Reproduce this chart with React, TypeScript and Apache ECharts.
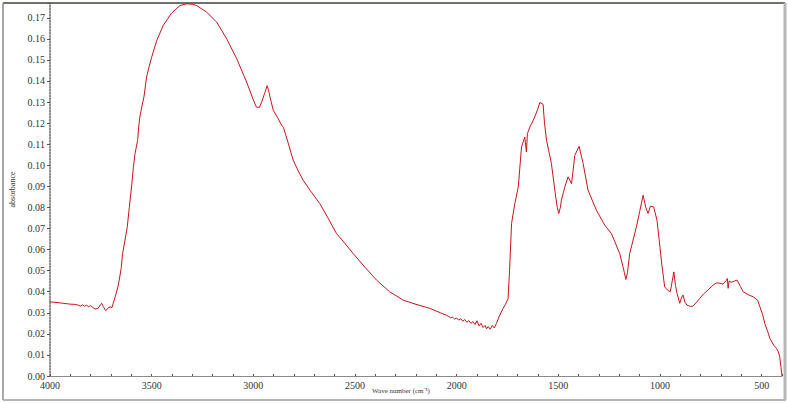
import React, { useEffect, useRef } from "react";
import * as echarts from "echarts";

// Wavenumber (cm^-1), descending
const wavenumbers: number[] = [
  4000, 3950, 3902, 3880, 3860, 3850, 3840, 3830, 3820, 3810, 3800, 3790, 3779, 3765, 3750, 3746, 3738, 3726, 3715, 3705,
  3695, 3689, 3675, 3664, 3650, 3643, 3630, 3620, 3610, 3599, 3590, 3582, 3569, 3563, 3558, 3548, 3538, 3525, 3512, 3500,
  3475, 3443, 3402, 3361, 3328, 3300, 3279, 3230, 3180, 3131, 3082, 3033, 3000, 2985, 2970, 2959, 2945, 2932, 2925, 2918,
  2902, 2880, 2861, 2852, 2830, 2804, 2780, 2755, 2720, 2673, 2630, 2591, 2550, 2509, 2450, 2394, 2330, 2263, 2200, 2132,
  2080, 2050, 2040, 2030, 2020, 2010, 2000, 1990, 1980, 1970, 1960, 1950, 1940, 1930, 1920, 1910, 1900, 1890, 1880, 1870,
  1860, 1853, 1845, 1835, 1825, 1815, 1804, 1790, 1772, 1760, 1747, 1740, 1730, 1714, 1697, 1681, 1665, 1657, 1652, 1640,
  1630, 1616, 1600, 1591, 1580, 1575, 1568, 1558, 1534, 1513, 1505, 1498, 1490, 1485, 1468, 1452, 1435, 1419, 1398, 1378,
  1354, 1313, 1272, 1239, 1198, 1175, 1168, 1160, 1149, 1116, 1100, 1083, 1070, 1059, 1047, 1031, 1015, 1004, 990, 977,
  960, 949, 940, 932, 924, 916, 903, 895, 887, 877, 867, 850, 838, 820, 805, 785, 764, 740, 723, 705,
  690, 675, 669, 665, 660, 649, 635, 621, 605, 591, 565, 542, 520, 509, 495, 485, 470, 460, 440, 427,
  418, 411, 405, 400,
];

// Absorbance values matching the wavenumbers above
const absorbance: number[] = [
  0.0352, 0.0347, 0.0341, 0.034, 0.0336, 0.0332, 0.0338, 0.0331, 0.0336, 0.0329, 0.0334, 0.0326, 0.0318, 0.032, 0.034, 0.0345, 0.033, 0.031, 0.0322, 0.0328,
  0.0325, 0.0345, 0.039, 0.0431, 0.051, 0.0581, 0.065, 0.0708, 0.08, 0.0897, 0.099, 0.1055, 0.1118, 0.119, 0.1229, 0.128, 0.1324, 0.1419, 0.147, 0.1513,
  0.1592, 0.1664, 0.1722, 0.1758, 0.1766, 0.1764, 0.1758, 0.1727, 0.1679, 0.16, 0.1506, 0.1395, 0.131, 0.1276, 0.1275, 0.13, 0.134, 0.1378, 0.1355, 0.1324,
  0.1261, 0.1225, 0.119, 0.118, 0.111, 0.1024, 0.0975, 0.0929, 0.088, 0.0818, 0.0745, 0.0676, 0.063, 0.0581, 0.0515, 0.0455, 0.04, 0.036, 0.034, 0.0321,
  0.03, 0.0288, 0.0283, 0.0276, 0.0279, 0.027, 0.0275, 0.0265, 0.0272, 0.026, 0.0268, 0.0255, 0.0263, 0.025, 0.0258, 0.0245, 0.0262, 0.0238, 0.025, 0.023,
  0.024, 0.0224, 0.0235, 0.0222, 0.024, 0.0228, 0.025, 0.0285, 0.032, 0.034, 0.0368, 0.05, 0.0724, 0.0818, 0.0897, 0.1087, 0.1134, 0.1063, 0.115, 0.1182,
  0.12, 0.1229, 0.127, 0.1298, 0.1292, 0.1289, 0.12, 0.1118, 0.1008, 0.085, 0.08, 0.0771, 0.08, 0.0834, 0.0897, 0.0945, 0.0913, 0.1047, 0.109, 0.1008,
  0.0882, 0.0787, 0.0716, 0.0676, 0.0581, 0.049, 0.0458, 0.049, 0.0581, 0.0708, 0.078, 0.0858, 0.08, 0.0771, 0.0806, 0.0802, 0.074, 0.0645, 0.052, 0.0423,
  0.0405, 0.04, 0.045, 0.0494, 0.043, 0.0392, 0.0345, 0.037, 0.0384, 0.035, 0.0336, 0.033, 0.0332, 0.035, 0.0368, 0.039, 0.0408, 0.043, 0.0442, 0.044,
  0.0436, 0.0452, 0.0463, 0.0416, 0.045, 0.0445, 0.045, 0.0455, 0.0425, 0.04, 0.0385, 0.0376, 0.036, 0.0329, 0.029, 0.025, 0.021, 0.0179, 0.0145, 0.0131,
  0.0115, 0.0091, 0.004, 0.0,
];

const xLabelStep = 500;
const yAxisName = "absorbance";
const xAxisName = "Wave number (cm\u207B\u00B9)";

export default function App() {
  const ref = useRef<HTMLDivElement>(null);

  useEffect(() => {
    if (!ref.current) return;
    const chart = echarts.init(ref.current, null, { renderer: "svg" });
    const data = wavenumbers.map((w, i) => [w, absorbance[i]]);
    const labelFont = "'Liberation Serif', 'DejaVu Serif', serif";

    chart.setOption({
      animation: false,
      backgroundColor: "#ffffff",
      grid: { left: 50, right: 6, top: 3, bottom: 27, containLabel: false },
      xAxis: {
        type: "value",
        inverse: true,
        min: 400,
        max: 4000,
        interval: 100,
        axisLine: { show: true, lineStyle: { color: "#8a8a8a", width: 1 } },
        axisTick: { show: true, inside: true, length: 2, lineStyle: { color: "#555" } },
        axisLabel: {
          color: "#333",
          fontFamily: labelFont,
          fontSize: 10,
          margin: 4,
          formatter: (v: number) => (v % xLabelStep === 0 ? String(v) : ""),
        },
        splitLine: { show: false },
      },
      yAxis: {
        type: "value",
        min: 0,
        max: 0.177,
        interval: 0.01,
        name: yAxisName,
        nameLocation: "middle",
        nameGap: 33,
        nameTextStyle: { color: "#333", fontFamily: labelFont, fontSize: 8 },
        axisLine: { show: true, lineStyle: { color: "#666", type: "dotted", width: 1.5 } },
        axisTick: { show: true, length: 3, lineStyle: { color: "#555" } },
        axisLabel: {
          color: "#333",
          fontFamily: labelFont,
          fontSize: 10,
          margin: 5,
          formatter: (v: number) =>
            Math.abs(v * 100 - Math.round(v * 100)) > 1e-6 ? "" : v.toFixed(2),
        },
        splitLine: { show: false },
      },
      series: [
        {
          type: "line",
          data,
          showSymbol: false,
          symbol: "none",
          lineStyle: { color: "#c8141c", width: 1 },
          smooth: false,
        },
      ],
      graphic: [
        {
          type: "text",
          left: 372,
          top: 387,
          style: { text: xAxisName, fill: "#333", font: "7px 'Liberation Serif', serif" },
        },
        { type: "line", shape: { x1: 3, y1: 3, x2: 785, y2: 3 }, style: { stroke: "#6f7268", lineWidth: 2 } },
        { type: "line", shape: { x1: 3, y1: 3, x2: 3, y2: 400 }, style: { stroke: "#8a8a8a", lineWidth: 1.5 } },
        { type: "line", shape: { x1: 3, y1: 400, x2: 786, y2: 400 }, style: { stroke: "#b5b5b5", lineWidth: 2 } },
        { type: "line", shape: { x1: 785, y1: 3, x2: 785, y2: 400 }, style: { stroke: "#b5b5b5", lineWidth: 3 } },
      ],
    });

    return () => chart.dispose();
  }, []);

  return (
    <div
      ref={ref}
      style={{ position: "fixed", left: 0, top: 0, width: 788, height: 403, background: "#fff" }}
    />
  );
}
